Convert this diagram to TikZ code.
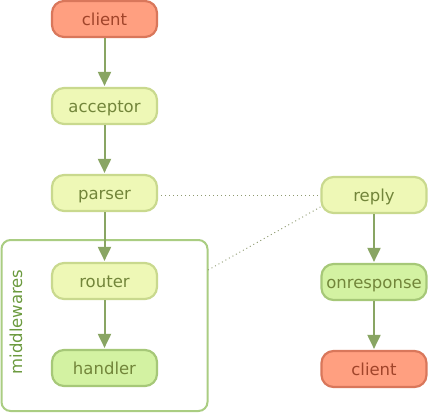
\documentclass[tikz,border=0pt]{standalone}
\usepackage{fontspec}
\setmainfont{DejaVu Sans}
\usetikzlibrary{arrows.meta}

\definecolor{clientfill}{HTML}{FF9F80}
\definecolor{clientdraw}{HTML}{D9775B}
\definecolor{clienttext}{HTML}{A0442A}
\definecolor{stepfill}{HTML}{EEF8B6}
\definecolor{stepdraw}{HTML}{C9D98E}
\definecolor{steptext}{HTML}{72853A}
\definecolor{endfill}{HTML}{D3F2A2}
\definecolor{enddraw}{HTML}{A6C878}
\definecolor{flowline}{HTML}{89A563}
\definecolor{clusterdraw}{HTML}{AACD82}
\definecolor{clustertext}{HTML}{6B9A3E}
\definecolor{linkdots}{HTML}{8E9A70}

\tikzset{
  box/.style={rectangle, rounded corners=12pt, line width=2.2pt,
    minimum width=105pt, minimum height=36pt, inner sep=0pt,
    text height=13pt, text depth=0pt, font=\fontsize{16.5}{18}\selectfont},
  clientbox/.style={box, fill=clientfill, draw=clientdraw, text=clienttext},
  stepbox/.style={box, fill=stepfill, draw=stepdraw, text=steptext},
  endbox/.style={box, fill=endfill, draw=enddraw, text=steptext},
  flow/.style={draw=flowline, line width=2pt, -{Triangle[length=14pt,width=13pt]}, shorten >=1pt},
  link/.style={draw=linkdots, line width=0.9pt, dash pattern=on 1pt off 3pt}
}

\begin{document}
\begin{tikzpicture}[x=1pt,y=-1pt]
	\useasboundingbox (0,0) rectangle (428,413);

	% Cluster
	\draw [draw=clusterdraw, line width=2pt, rounded corners=9pt] (1.5,240) rectangle (207.5,411);
	\node (mwlabel) [rotate=90, text=clustertext, font=\fontsize{16.5}{18}\selectfont] at (16,322) {middlewares};
	\coordinate (mwedge) at (208,270);

	% Text Node
	\node (client) [clientbox] at (104.5,19) {client};
	% Text Node
	\node (acceptor) [stepbox] at (104.5,106) {acceptor};
	% Text Node
	\node (parser) [stepbox] at (104.5,193) {parser};
	% Text Node
	\node (router) [stepbox] at (104.5,281) {router};
	% Text Node
	\node (handler) [endbox] at (104.5,368) {handler};
	% Text Node
	\node (reply) [stepbox] at (374,195) {reply};
	% Text Node
	\node (onresponse) [endbox] at (374,282) {onresponse};
	% Text Node
	\node (clientback) [clientbox] at (374,369) {client};

	% Connection
	\draw [flow] (client) -- (acceptor);
	% Connection
	\draw [flow] (acceptor) -- (parser);
	% Connection
	\draw [flow] (parser) -- (router);
	% Connection
	\draw [flow] (router) -- (handler);
	% Connection
	\draw [flow] (reply) -- (onresponse);
	% Connection
	\draw [flow] (onresponse) -- (clientback);
	% Connection
	\draw [link] (parser.east) ++(3,2) -- (reply.west);
	% Connection
	\draw [link] (mwedge) -- ([yshift=-12pt]reply.west);

\end{tikzpicture}
\end{document}
